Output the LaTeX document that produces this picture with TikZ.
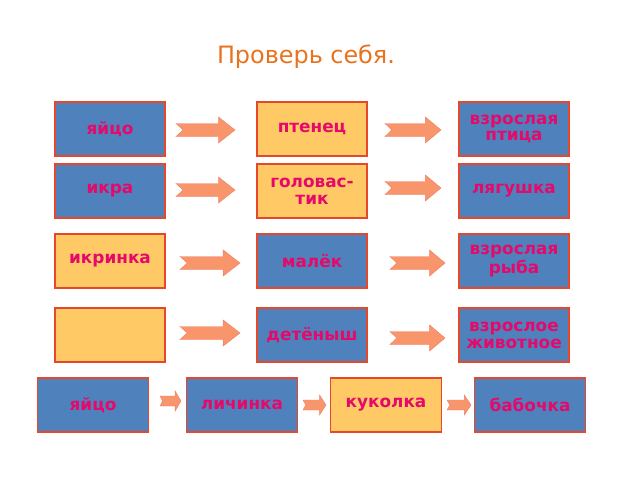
\documentclass[tikz,border=0pt]{standalone}
\usepackage{fontspec}
\setmainfont{DejaVu Sans}
\definecolor{boxblue}{HTML}{4F81BD}
\definecolor{boxyellow}{HTML}{FFC966}
\definecolor{boxedge}{HTML}{E8482A}
\definecolor{wordpink}{HTML}{E5096A}
\definecolor{arrowfill}{HTML}{F9956A}
\definecolor{titleorange}{HTML}{E8731E}

\tikzset{
  stage/.style={draw=boxedge, line width=1.2pt, minimum width=78pt, minimum height=38pt,
    inner sep=0pt, text=wordpink, font=\bfseries\fontsize{12}{12}\selectfont, align=center},
  blue stage/.style={stage, fill=boxblue},
  yellow stage/.style={stage, fill=boxyellow},
  small stage/.style={minimum width=79pt},
  stage arrow/.style={fill=arrowfill, draw=boxedge!70, line width=0.3pt}
}

% notched block arrow: left x, centre y, length, height
\newcommand{\steparrow}[4]{%
  \filldraw[stage arrow] (#1,#2+#4*0.25) -- (#1+#3*0.72,#2+#4*0.25) -- (#1+#3*0.72,#2+#4*0.5)
    -- (#1+#3,#2) -- (#1+#3*0.72,#2-#4*0.5) -- (#1+#3*0.72,#2-#4*0.25)
    -- (#1,#2-#4*0.25) -- (#1+#3*0.12,#2) -- cycle;}

\begin{document}
\begin{tikzpicture}[x=0.25mm, y=-0.25mm]
  \useasboundingbox (0,0) rectangle (640,480);

  \node[text=titleorange, font=\fontsize{17}{17}\selectfont] (title) at (306,57) {Проверь себя.};

  % birds
  \node[blue stage] (egg) at (110,129) {яйцо};
  \node[yellow stage] (chick) at (312,129) {птенец};
  \node[blue stage] (bird) at (514,129) {взрослая\\птица};
  \steparrow{176}{130}{59}{26}
  \steparrow{385}{130}{56}{26}

  % frogs
  \node[blue stage] (spawn) at (110,191) {икра};
  \node[yellow stage] (tadpole) at (312,191) {головас-\\тик};
  \node[blue stage] (frog) at (514,191) {лягушка};
  \steparrow{176}{190}{59}{26}
  \steparrow{385}{188}{56}{26}

  % fish
  \node[yellow stage] (roe) at (110,261) {икринка};
  \node[blue stage] (fry) at (312,261) {малёк};
  \node[blue stage] (fish) at (514,261) {взрослая\\рыба};
  \steparrow{180}{263}{60}{26}
  \steparrow{390}{263}{55}{26}

  % animals
  \node[yellow stage] (blank) at (110,335) {};
  \node[blue stage] (cub) at (312,335) {детёныш};
  \node[blue stage] (animal) at (514,335) {взрослое\\животное};
  \steparrow{180}{333}{60}{26}
  \steparrow{390}{338}{55}{26}

  % butterfly
  \node[blue stage, small stage] (egg2) at (93,405) {яйцо};
  \node[blue stage, small stage] (larva) at (242,405) {личинка};
  \node[yellow stage, small stage] (pupa) at (386,405) {куколка};
  \node[blue stage, small stage] (moth) at (530,405) {бабочка};
  \steparrow{160}{401}{21}{20}
  \steparrow{303}{405}{23}{20}
  \steparrow{447}{405}{24}{20}
\end{tikzpicture}
\end{document}
